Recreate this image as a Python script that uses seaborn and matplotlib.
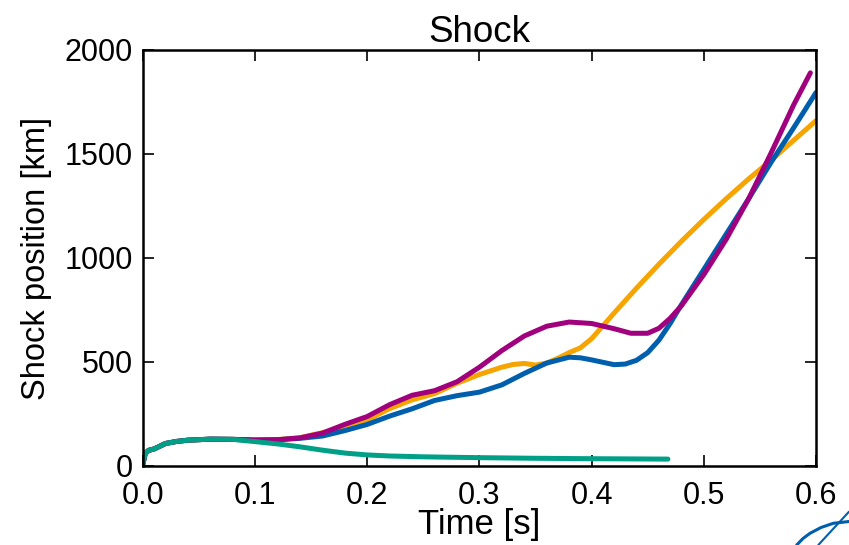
import numpy as np
import pandas as pd
import matplotlib
matplotlib.use("Agg")
import matplotlib.pyplot as plt
from matplotlib.lines import Line2D
import seaborn as sns

# ---- data ----
early_t = [0.0, 0.002, 0.005, 0.01, 0.015, 0.02, 0.03, 0.04, 0.06, 0.08]
early_v = [10, 60, 75, 82, 95, 108, 118, 124, 129, 128]

purple_t = early_t + [0.10, 0.12, 0.14, 0.16, 0.18, 0.20, 0.22, 0.24, 0.26, 0.28, 0.30,
                      0.32, 0.34, 0.36, 0.38, 0.40, 0.42, 0.435, 0.45, 0.46, 0.47,
                      0.48, 0.49, 0.50, 0.52, 0.54, 0.56, 0.58, 0.595]
purple_v = early_v + [125, 126, 135, 158, 200, 238, 295, 340, 362, 405, 475,
                      555, 625, 672, 692, 685, 660, 638, 638, 662, 710,
                      770, 845, 920, 1090, 1285, 1505, 1735, 1890]

orange_t = early_t + [0.10, 0.12, 0.14, 0.16, 0.18, 0.20, 0.22, 0.24, 0.26, 0.28, 0.30,
                      0.32, 0.33, 0.34, 0.35, 0.36, 0.37, 0.38, 0.39, 0.40, 0.42, 0.44,
                      0.46, 0.48, 0.50, 0.52, 0.54, 0.56, 0.58, 0.60]
orange_v = early_v + [125, 127, 136, 160, 190, 222, 276, 318, 348, 398, 440,
                      475, 488, 493, 485, 495, 518, 545, 568, 612, 735, 855,
                      970, 1080, 1185, 1285, 1380, 1470, 1565, 1660]

blue_t = early_t + [0.10, 0.12, 0.14, 0.16, 0.18, 0.20, 0.22, 0.24, 0.26, 0.28, 0.30,
                    0.32, 0.34, 0.36, 0.38, 0.39, 0.40, 0.42, 0.43, 0.44, 0.45, 0.46,
                    0.47, 0.48, 0.49, 0.50, 0.52, 0.54, 0.56, 0.58, 0.60]
blue_v = early_v + [124, 126, 133, 144, 170, 200, 240, 275, 315, 338, 355,
                    390, 445, 495, 523, 520, 510, 487, 490, 508, 545, 605,
                    685, 775, 860, 945, 1115, 1285, 1460, 1625, 1795]

teal_t = early_t + [0.10, 0.12, 0.14, 0.16, 0.18, 0.20, 0.22, 0.25, 0.30, 0.35, 0.40, 0.468]
teal_v = early_v + [117, 106, 92, 76, 62, 53, 48, 44, 40, 37, 35, 33]

colors = {"purple": "#A0007E", "orange": "#F6A400", "blue": "#005FAD", "teal": "#00A086"}

x_ticks = [0.0, 0.1, 0.2, 0.3, 0.4, 0.5, 0.6]
x_labels = ["0.0", "0.1", "0.2", "0.3", "0.4", "0.5", "0.6"]
y_ticks = [0, 500, 1000, 1500, 2000]

frames = []
for name, tt, vv in [("teal", teal_t, teal_v), ("orange", orange_t, orange_v),
                     ("blue", blue_t, blue_v), ("purple", purple_t, purple_v)]:
    frames.append(pd.DataFrame({"t": tt, "v": vv, "s": name}))
df = pd.concat(frames, ignore_index=True)

# ---- style ----
sns.set_theme(style="ticks")
plt.rcParams["font.family"] = ["Liberation Sans", "DejaVu Sans"]
plt.rcParams.update({
    "xtick.direction": "in", "ytick.direction": "in",
    "xtick.top": True, "ytick.right": True,
    "xtick.major.size": 8, "ytick.major.size": 8,
    "xtick.major.width": 1.2, "ytick.major.width": 1.2,
    "axes.linewidth": 1.8, "axes.edgecolor": "black",
    "text.color": "black", "axes.labelcolor": "black",
    "xtick.color": "black", "ytick.color": "black",
})

fig = plt.figure(figsize=(8.49, 5.45), dpi=100)
ax = fig.add_axes([0.1684, 0.1450, 0.9611 - 0.1684, 0.9083 - 0.1450])

for name in ["orange", "blue", "purple", "teal"]:
    sub = df[df["s"] == name]
    sns.lineplot(data=sub, x="t", y="v", ax=ax, color=colors[name], lw=3.6,
                 sort=False, estimator=None, legend=False)

ax.set_xlim(0, 0.6)
ax.set_ylim(0, 2000)
ax.set_xticks(x_ticks)
ax.set_xticklabels(x_labels)
ax.set_yticks(y_ticks)
ax.tick_params(axis="both", labelsize=22, colors="black")
ax.tick_params(axis="x", pad=10.5)
ax.tick_params(axis="y", pad=7)
ax.set_xlabel("Time [s]", fontsize=25, labelpad=-2, color="black")
ax.set_ylabel("Shock position [km]", fontsize=23.5, labelpad=9, color="black")
ax.set_title("Shock", fontsize=26.5, pad=5, color="black")
for sp in ax.spines.values():
    sp.set_visible(True)
    sp.set_linewidth(1.8)

# decorative logo fragment in the bottom-right corner
W, H = 849.0, 545.0
arc_x = np.array([796.7, 803, 810, 821, 833.3, 849]) / W
arc_y = 1 - np.array([545, 538.5, 533.3, 527.5, 523.3, 521.5]) / H
fig.add_artist(Line2D(arc_x, arc_y, transform=fig.transFigure, color="#005FAD", lw=2.2))
fig.add_artist(Line2D(np.array([818.3, 849]) / W, 1 - np.array([545, 511.7]) / H,
                      transform=fig.transFigure, color="#005FAD", lw=1.5))

fig.savefig("out.png", dpi=100)
